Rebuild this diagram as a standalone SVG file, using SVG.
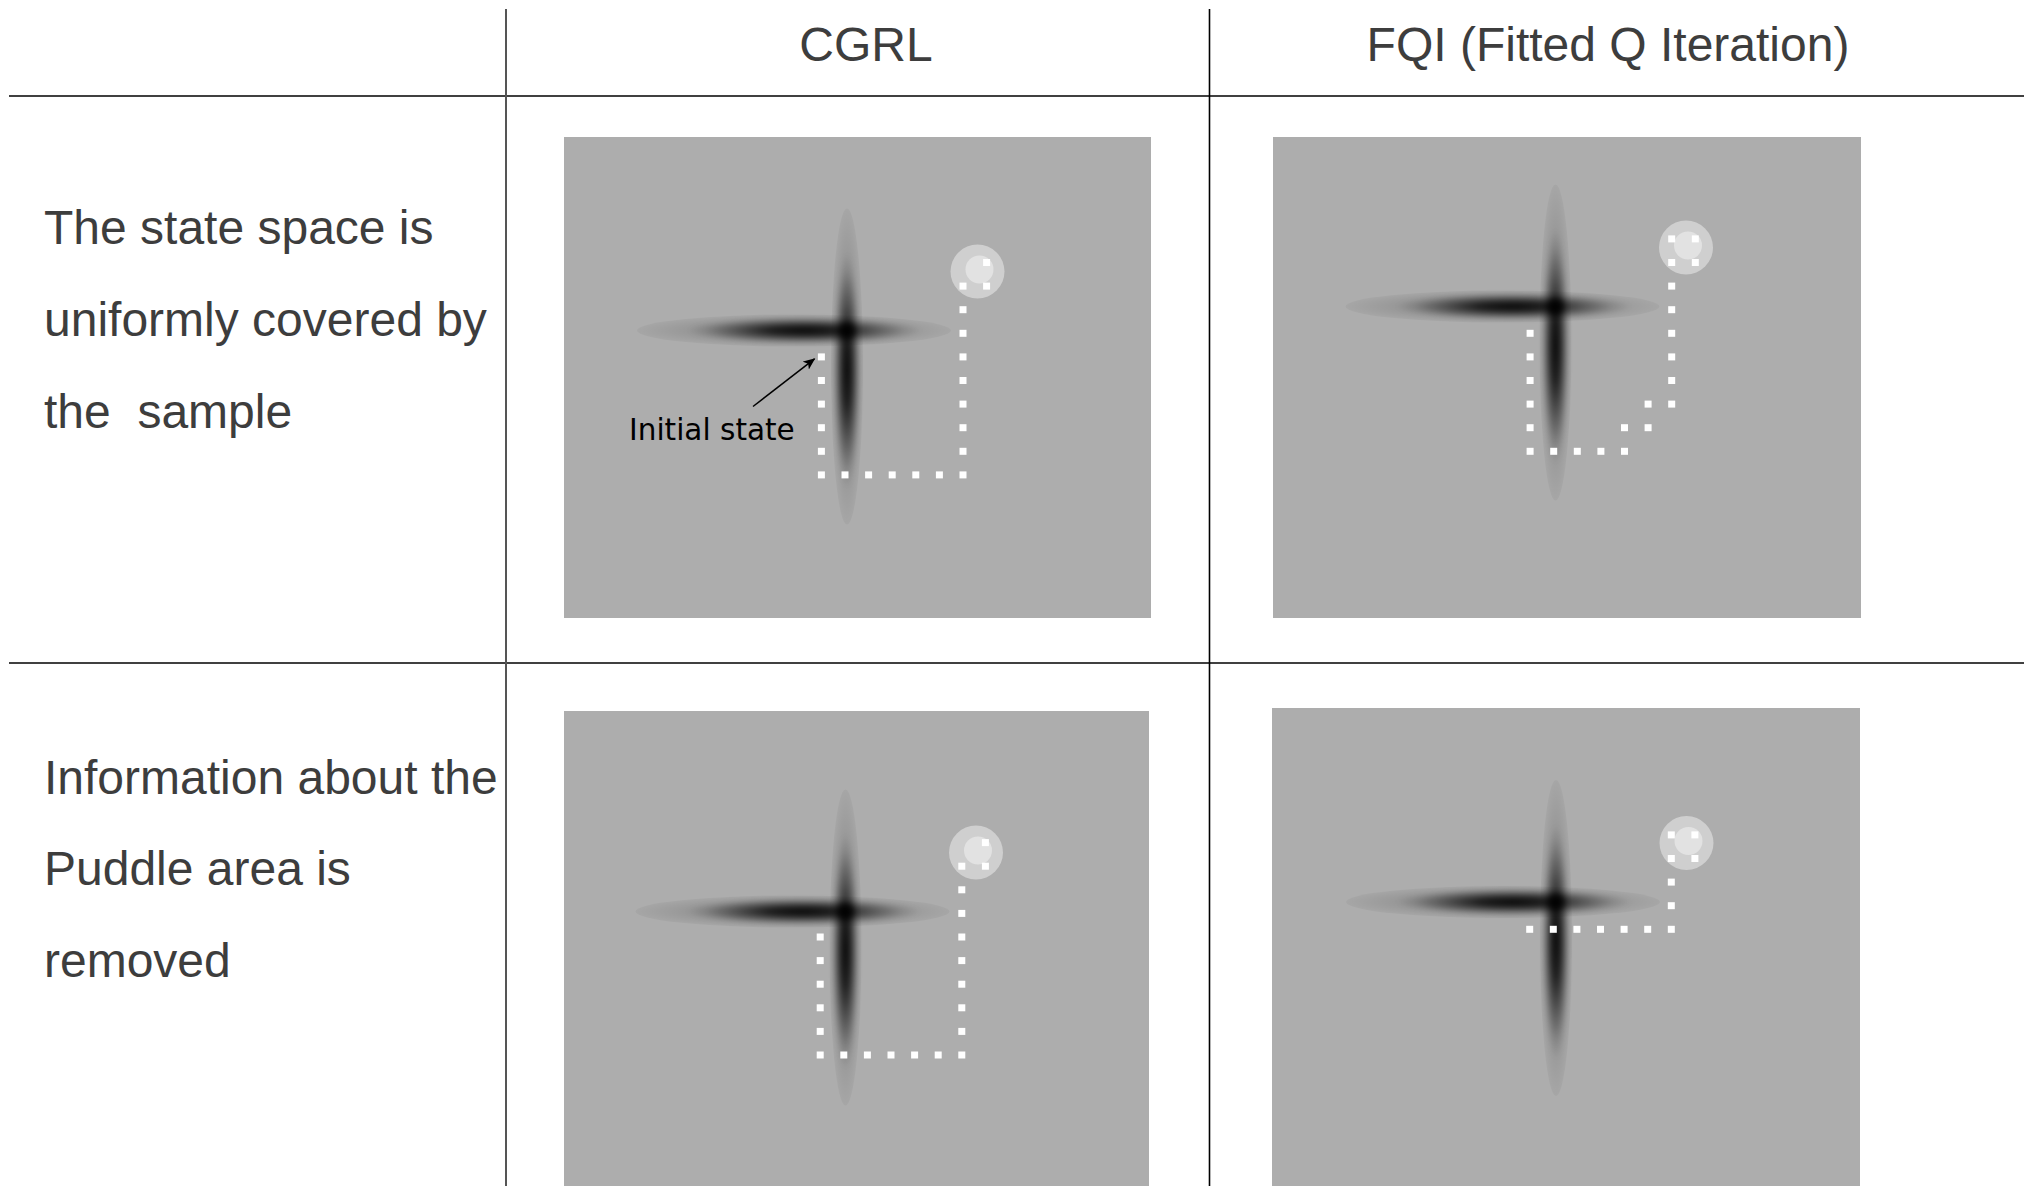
<svg xmlns="http://www.w3.org/2000/svg" xmlns:xlink="http://www.w3.org/1999/xlink" width="2024" height="1186" viewBox="0 0 2024 1186">
  <style>
    .label { font-family: "Liberation Sans", Arial, sans-serif; font-size: 48px; fill: #3d3d3d; }
    .head { text-anchor: middle; }
    .field { fill: #adadad; }
    .dot { fill: #ffffff; }
    .rule { stroke: #000; stroke-width: 1.6; fill: none; }
    .note { font-family: "DejaVu Sans", Verdana, sans-serif; font-size: 29.5px; fill: #000; }
  </style>
  <defs>
    <!-- wide faint envelope of each puddle -->
    <radialGradient id="halo">
      <stop offset="0" stop-color="#000" stop-opacity="0.3"/>
      <stop offset="0.6" stop-color="#000" stop-opacity="0.14"/>
      <stop offset="1" stop-color="#000" stop-opacity="0.04"/>
    </radialGradient>
    <!-- darker body of each puddle -->
    <radialGradient id="body">
      <stop offset="0" stop-color="#000" stop-opacity="0.9"/>
      <stop offset="0.3" stop-color="#000" stop-opacity="0.75"/>
      <stop offset="0.6" stop-color="#000" stop-opacity="0.38"/>
      <stop offset="0.85" stop-color="#000" stop-opacity="0.1"/>
      <stop offset="1" stop-color="#000" stop-opacity="0"/>
    </radialGradient>
    <radialGradient id="core">
      <stop offset="0" stop-color="#000" stop-opacity="1"/>
      <stop offset="0.5" stop-color="#000" stop-opacity="0.6"/>
      <stop offset="1" stop-color="#000" stop-opacity="0"/>
    </radialGradient>
    <filter id="soft" x="-20%" y="-20%" width="140%" height="140%">
      <feGaussianBlur stdDeviation="2"/>
    </filter>
    <marker id="tip" viewBox="0 0 12 10" refX="11" refY="5" markerWidth="12" markerHeight="10" markerUnits="userSpaceOnUse" orient="auto">
      <path d="M0,0 L12,5 L0,10 L3,5 z" fill="#000"/>
    </marker>
    <!-- puddle world, drawn around the crossing point of the puddles -->
    <g id="world">
      <ellipse cx="-53" cy="0" rx="157" ry="16" fill="url(#halo)"/>
      <ellipse cx="0" cy="36" rx="16" ry="158" fill="url(#halo)"/>
      <g filter="url(#soft)">
        <ellipse cx="-42" cy="0" rx="118" ry="14" fill="url(#body)"/>
        <ellipse cx="0" cy="40" rx="14" ry="118" fill="url(#body)"/>
        <circle cx="0" cy="0" r="11" fill="url(#core)"/>
      </g>
      <circle cx="130.5" cy="-59" r="27" fill="#cfcfcf"/>
      <circle cx="132.5" cy="-61" r="14" fill="#e2e2e2"/>
    </g>
    <!-- trajectory: up the left side, across, up to the goal -->
    <g id="pathA">
      <rect class="dot" x="-3.5" y="-121.5" width="7" height="7"/>
      <rect class="dot" x="-3.5" y="-97.9" width="7" height="7"/>
      <rect class="dot" x="-3.5" y="-74.3" width="7" height="7"/>
      <rect class="dot" x="-3.5" y="-50.7" width="7" height="7"/>
      <rect class="dot" x="-3.5" y="-27.1" width="7" height="7"/>
      <rect class="dot" x="-3.5" y="-3.5" width="7" height="7"/>
      <rect class="dot" x="20.1" y="-3.5" width="7" height="7"/>
      <rect class="dot" x="43.7" y="-3.5" width="7" height="7"/>
      <rect class="dot" x="67.3" y="-3.5" width="7" height="7"/>
      <rect class="dot" x="90.9" y="-3.5" width="7" height="7"/>
      <rect class="dot" x="114.5" y="-3.5" width="7" height="7"/>
      <rect class="dot" x="138.1" y="-3.5" width="7" height="7"/>
      <rect class="dot" x="138.1" y="-27.1" width="7" height="7"/>
      <rect class="dot" x="138.1" y="-50.7" width="7" height="7"/>
      <rect class="dot" x="138.1" y="-74.3" width="7" height="7"/>
      <rect class="dot" x="138.1" y="-97.9" width="7" height="7"/>
      <rect class="dot" x="138.1" y="-121.5" width="7" height="7"/>
      <rect class="dot" x="138.1" y="-145.1" width="7" height="7"/>
      <rect class="dot" x="138.1" y="-168.7" width="7" height="7"/>
      <rect class="dot" x="138.1" y="-192.3" width="7" height="7"/>
      <rect class="dot" x="161.7" y="-192.3" width="7" height="7"/>
      <rect class="dot" x="161.7" y="-215.9" width="7" height="7"/>
    </g>
    <g id="pathB">
      <rect class="dot" x="-3.5" y="-121.5" width="7" height="7"/>
      <rect class="dot" x="-3.5" y="-97.9" width="7" height="7"/>
      <rect class="dot" x="-3.5" y="-74.3" width="7" height="7"/>
      <rect class="dot" x="-3.5" y="-50.7" width="7" height="7"/>
      <rect class="dot" x="-3.5" y="-27.1" width="7" height="7"/>
      <rect class="dot" x="-3.5" y="-3.5" width="7" height="7"/>
      <rect class="dot" x="20.1" y="-3.5" width="7" height="7"/>
      <rect class="dot" x="43.7" y="-3.5" width="7" height="7"/>
      <rect class="dot" x="67.3" y="-3.5" width="7" height="7"/>
      <rect class="dot" x="90.9" y="-3.5" width="7" height="7"/>
      <rect class="dot" x="90.9" y="-27.1" width="7" height="7"/>
      <rect class="dot" x="114.5" y="-27.1" width="7" height="7"/>
      <rect class="dot" x="114.5" y="-50.7" width="7" height="7"/>
      <rect class="dot" x="138.1" y="-50.7" width="7" height="7"/>
      <rect class="dot" x="138.1" y="-74.3" width="7" height="7"/>
      <rect class="dot" x="138.1" y="-97.9" width="7" height="7"/>
      <rect class="dot" x="138.1" y="-121.5" width="7" height="7"/>
      <rect class="dot" x="138.1" y="-145.1" width="7" height="7"/>
      <rect class="dot" x="138.1" y="-168.7" width="7" height="7"/>
      <rect class="dot" x="138.1" y="-192.3" width="7" height="7"/>
      <rect class="dot" x="161.7" y="-192.3" width="7" height="7"/>
      <rect class="dot" x="138.1" y="-215.9" width="7" height="7"/>
      <rect class="dot" x="161.7" y="-215.9" width="7" height="7"/>
    </g>
    <g id="pathC">
      <rect class="dot" x="-3.5" y="-3.5" width="7" height="7"/>
      <rect class="dot" x="20.1" y="-3.5" width="7" height="7"/>
      <rect class="dot" x="43.7" y="-3.5" width="7" height="7"/>
      <rect class="dot" x="67.3" y="-3.5" width="7" height="7"/>
      <rect class="dot" x="90.9" y="-3.5" width="7" height="7"/>
      <rect class="dot" x="114.5" y="-3.5" width="7" height="7"/>
      <rect class="dot" x="138.1" y="-3.5" width="7" height="7"/>
      <rect class="dot" x="138.1" y="-27.1" width="7" height="7"/>
      <rect class="dot" x="138.1" y="-50.7" width="7" height="7"/>
      <rect class="dot" x="138.1" y="-74.3" width="7" height="7"/>
      <rect class="dot" x="161.7" y="-74.3" width="7" height="7"/>
      <rect class="dot" x="138.1" y="-97.9" width="7" height="7"/>
      <rect class="dot" x="161.7" y="-97.9" width="7" height="7"/>
    </g>
  </defs>

  <rect width="2024" height="1186" fill="#ffffff"/>

  <!-- table rules -->
  <g id="rules">
    <line class="rule" x1="9" y1="96" x2="2024" y2="96"/>
    <line class="rule" x1="9" y1="663" x2="2024" y2="663"/>
    <line x1="506" y1="9" x2="506" y2="1186" stroke="#555" stroke-width="2"/>
    <line class="rule" x1="1209.5" y1="9" x2="1209.5" y2="1186"/>
  </g>

  <!-- column headings -->
  <g id="head-cgrl"><text class="label head" x="866" y="61">CGRL</text></g>
  <g id="head-fqi"><text class="label head" x="1608" y="61">FQI (Fitted Q Iteration)</text></g>

  <!-- row captions -->
  <g id="row-uniform">
    <text class="label" x="44" y="244">The state space is</text>
    <text class="label" x="44" y="336">uniformly covered by</text>
    <text class="label" x="44" y="428" xml:space="preserve">the  sample</text>
  </g>
  <g id="row-removed">
    <text class="label" x="44" y="794">Information about the</text>
    <text class="label" x="44" y="885">Puddle area is</text>
    <text class="label" x="44" y="977">removed</text>
  </g>

  <!-- CGRL, uniform sample -->
  <g id="panel-cgrl-uniform">
    <rect class="field" x="564" y="137" width="587" height="481"/>
    <use xlink:href="#world" href="#world" x="847" y="330.5"/>
    <use xlink:href="#pathA" href="#pathA" x="821.4" y="474.9"/>
    <line x1="753" y1="406.5" x2="814.5" y2="358.8" stroke="#000" stroke-width="1.5" marker-end="url(#tip)"/>
    <text class="note" x="629" y="440">Initial state</text>
  </g>

  <!-- FQI, uniform sample -->
  <g id="panel-fqi-uniform">
    <rect class="field" x="1273" y="137" width="588" height="481"/>
    <use xlink:href="#world" href="#world" x="1555.5" y="306.5"/>
    <use xlink:href="#pathB" href="#pathB" x="1530.1" y="451.3"/>
  </g>

  <!-- CGRL, puddle information removed -->
  <g id="panel-cgrl-removed">
    <rect class="field" x="564" y="711" width="585" height="475"/>
    <use xlink:href="#world" href="#world" x="845.5" y="911.5"/>
    <use xlink:href="#pathA" href="#pathA" x="820.2" y="1055"/>
  </g>

  <!-- FQI, puddle information removed -->
  <g id="panel-fqi-removed">
    <rect class="field" x="1272" y="708" width="588" height="478"/>
    <use xlink:href="#world" href="#world" x="1556" y="902"/>
    <use xlink:href="#pathC" href="#pathC" x="1529.7" y="929.3"/>
  </g>
</svg>
